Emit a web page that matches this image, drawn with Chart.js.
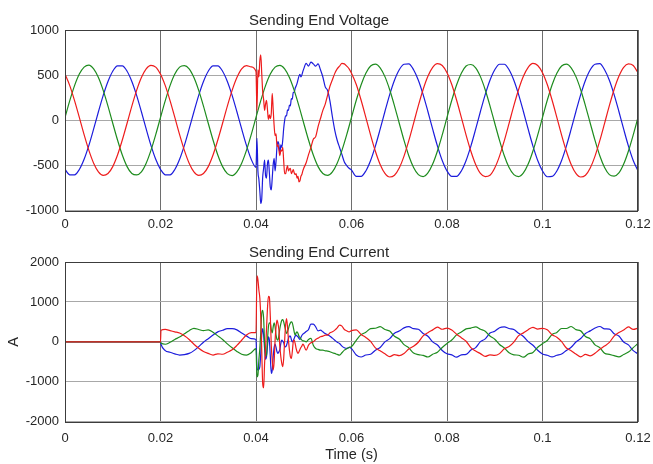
<!DOCTYPE html>
<html>
<head>
<meta charset="utf-8">
<script src="https://cdn.jsdelivr.net/npm/chart.js@4.4.1/dist/chart.umd.min.js"></script>
<style>
  body { margin: 0; background: #fff; }
  canvas { position: absolute; left: 0; }
  #volt { top: 0; }
  #curr { top: 232px; }
</style>
</head>
<body>
<canvas id="volt" width="653" height="232"></canvas>
<canvas id="curr" width="653" height="232"></canvas>
<script>
// ---- sample times (s) ----
// before the fault (breaker closes at 0.02)
const tPre = [0, 0.001, 0.002, 0.003, 0.004, 0.005, 0.006, 0.007, 0.008, 0.009,
  0.01, 0.011, 0.012, 0.013, 0.014, 0.015, 0.016, 0.017, 0.018, 0.019, 0.02, 0.0201,
  0.021, 0.022, 0.023, 0.024, 0.025, 0.026, 0.027, 0.028, 0.029,
  0.03, 0.031, 0.032, 0.033, 0.034, 0.035, 0.036, 0.037, 0.038, 0.039];
// fault window, fine steps
const tFault = [0.04, 0.0402, 0.0404, 0.0406, 0.0408, 0.041, 0.0412, 0.0414, 0.0416, 0.0418,
  0.042, 0.0422, 0.0424, 0.0426, 0.0428, 0.043, 0.0432, 0.0434, 0.0436, 0.0438,
  0.044, 0.0442, 0.0444, 0.0446, 0.0448, 0.045, 0.0452, 0.0454, 0.0456, 0.0458,
  0.046, 0.0462, 0.0464, 0.0466, 0.0468, 0.047, 0.0472, 0.0474, 0.0476, 0.0478,
  0.048, 0.0482, 0.0484, 0.0486, 0.0488, 0.049, 0.0492, 0.0494, 0.0496, 0.0498, 0.05,
  0.0505, 0.051, 0.0515, 0.052, 0.0525, 0.053, 0.0535, 0.054, 0.0545, 0.055,
  0.0555, 0.056, 0.0565, 0.057, 0.0575, 0.058, 0.0585, 0.059, 0.0595, 0.06];
// fault window, coarse steps (phase that is not disturbed)
const tMid = [0.04, 0.041, 0.042, 0.043, 0.044, 0.045, 0.046, 0.047, 0.048, 0.049,
  0.05, 0.051, 0.052, 0.053, 0.054, 0.055, 0.056, 0.057, 0.058, 0.059, 0.06];
// after the fault
const tPost = [0.061, 0.062, 0.063, 0.064, 0.065, 0.066, 0.067, 0.068, 0.069, 0.07,
  0.071, 0.072, 0.073, 0.074, 0.075, 0.076, 0.077, 0.078, 0.079, 0.08,
  0.081, 0.082, 0.083, 0.084, 0.085, 0.086, 0.087, 0.088, 0.089, 0.09,
  0.091, 0.092, 0.093, 0.094, 0.095, 0.096, 0.097, 0.098, 0.099, 0.1,
  0.101, 0.102, 0.103, 0.104, 0.105, 0.106, 0.107, 0.108, 0.109, 0.11,
  0.111, 0.112, 0.113, 0.114, 0.115, 0.116, 0.117, 0.118, 0.119, 0.12];

// ---- sending end voltage (V) ----
const vRedPre = [512, 384, 218, 32, -158, -332, -474, -570, -609, -589,
  -512, -384, -218, -32, 158, 332, 474, 570, 609, 589, 512, 501,
  384, 218, 32, -158, -332, -474, -570, -609, -589,
  -512, -384, -218, -32, 158, 332, 474, 570, 606, 592];
const vGreenPre = [32, 218, 384, 512, 589, 612, 570, 474, 332, 158,
  -32, -218, -384, -512, -589, -604, -570, -474, -332, -158, 32, 51,
  218, 384, 512, 589, 606, 570, 474, 332, 158,
  -32, -218, -384, -512, -589, -611, -570, -474, -332, -158];
const vBluePre = [-544, -603, -603, -544, -431, -277, -95, 95, 277, 431,
  544, 603, 603, 544, 431, 277, 95, -95, -277, -431, -544, -552,
  -603, -603, -544, -431, -277, -95, 95, 277, 431,
  544, 603, 603, 544, 431, 277, 95, -95, -277, -431];

const vRedFault = [540, 110, 560, 480, 660, 725, 520, 320, 230, 110,
  180, 220, 120, 10, 60, 20, 80, 300, 120, -60,
  -170, -150, -290, -270, -330, -390, -330, -340, -300, -450,
  -590, -590, -540, -500, -560, -540, -530, -590, -570, -545,
  -580, -600, -590, -640, -620, -680, -670, -620, -600, -560, -530,
  -470, -380, -300, -210, -180, -70, 20, 110, 180, 280,
  380, 450, 520, 570, 600, 630, 625, 600, 570, 520];
const vBlueFault = [-520, -200, -560, -650, -780, -920, -870, -630, -530, -440,
  -610, -640, -480, -440, -580, -740, -770, -640, -490, -420,
  -560, -450, -290, -235, -270, -370, -270, -300, -220, -90,
  0, 50, 50, 115, 110, 170, 160, 240, 235, 310,
  310, 355, 380, 410, 450, 490, 510, 480, 500, 540, 570,
  630, 600, 645, 625, 600, 625, 560, 480, 370, 330,
  210, 40, -110, -220, -300, -380, -460, -500, -530, -550];
const vGreenMid = [32, 218, 384, 512, 589, 609, 570, 474, 332, 158,
  -32, -218, -384, -512, -589, -609, -570, -474, -332, -158, 32];

const vRedPost = [396, 225, 33, -163, -342, -488, -587, -627, -607,
  -527, -396, -225, -33, 163, 342, 488, 587, 627, 607,
  527, 396, 225, 33, -163, -342, -488, -587, -622, -607,
  -527, -396, -225, -33, 163, 342, 488, 587, 630, 607,
  527, 396, 225, 33, -163, -342, -488, -587, -627, -607,
  -527, -396, -225, -33, 163, 342, 488, 587, 624, 607, 527];
const vGreenPost = [222, 392, 522, 601, 622, 582, 484, 339, 161,
  -32, -222, -392, -522, -601, -622, -582, -484, -339, -161,
  32, 222, 392, 522, 601, 618, 582, 484, 339, 161,
  -32, -222, -392, -522, -601, -622, -582, -484, -339, -161,
  32, 222, 392, 522, 601, 622, 582, 484, 339, 161,
  -32, -222, -392, -522, -601, -617, -582, -484, -339, -161, 32];
const vBluePost = [-621, -621, -560, -444, -285, -98, 98, 285, 444,
  560, 621, 626, 560, 444, 285, 98, -98, -285, -444,
  -560, -621, -621, -560, -444, -285, -98, 98, 285, 444,
  560, 621, 621, 560, 444, 285, 98, -98, -285, -444,
  -560, -624, -621, -560, -444, -285, -98, 98, 285, 444,
  560, 621, 628, 560, 444, 285, 98, -98, -285, -444, -560];

// ---- sending end current (A) ----
const iRedPre = [0, 0, 0, 0, 0, 0, 0, 0, 0, 0, 0, 0, 0, 0, 0, 0, 0, 0, 0, 0, 0, 290,
  310, 280, 250, 220, 150, 60, -60, -160, -240,
  -290, -330, -300, -310, -260, -200, -90, 40, 170, 230];
const iGreenPre = [0, 0, 0, 0, 0, 0, 0, 0, 0, 0, 0, 0, 0, 0, 0, 0, 0, 0, 0, 0, 0, -30,
  -60, -10, 60, 120, 200, 280, 340, 310, 280,
  300, 240, 150, 60, -50, -150, -240, -310, -330, -270];
const iBluePre = [0, 0, 0, 0, 0, 0, 0, 0, 0, 0, 0, 0, 0, 0, 0, 0, 0, 0, 0, 0, 0, -60,
  -220, -260, -300, -330, -320, -290, -220, -120, -10,
  80, 170, 250, 290, 330, 330, 300, 220, 150, 80];

const iRedFault = [230, 1650, 1560, 1300, 1100, 625, -200, -1040, -1150, -540,
  -165, 320, 834, 1142, 1125, 625, -83, -457, -707, -499,
  42, 376, 542, 459, 293, -124, -374, -540, -624, -415,
  42, 418, 584, 376, 42, -207, -374, -415, -249, 0,
  42, -40, -165, -249, -290, -249, -190, -140, -107, -57, -83,
  -207, -83, -25, 0, 60, 93, 126, 143, 168, 168,
  226, 251, 293, 351, 418, 393, 309, 276, 251, 280];
const iGreenFault = [-170, -875, -832, -457, -165, 251, 709, 792, 584, -41,
  -357, -332, 42, 376, 476, 459, 309, 226, 376, 476,
  376, 168, 60, 42, 168, 334, 459, 542, 559, 501,
  393, 293, 209, 251, 334, 418, 476, 501, 476, 376,
  251, 168, 226, 251, 209, 143, 110, 76, 42, 26, 26,
  0, 60, 85, -83, -165, -190, -207, -207, -224, -232,
  -249, -274, -290, -315, -332, -274, -207, -174, -140, -120];
const iBlueFault = [60, -624, -707, -690, -624, -290, 168, 334, 168, -165,
  -440, -374, -107, 126, 42, -374, -790, -707, -374, -140,
  -57, -140, -249, -290, -249, -190, -40, 42, 18, -25,
  -107, -124, -83, 0, 85, 143, 143, 60, 0, 26,
  85, 143, 168, 143, 126, 85, 60, 110, 160, 193, 209,
  259, 309, 443, 443, 376, 276, 293, 251, 209, 176,
  143, 93, 42, -8, -40, -107, -149, -165, -140, -170];

const iRedPost = [300, 185, 110, 10, -150, -225, -300, -370, -320,
  -345, -290, -180, -110, -10, 150, 230, 300, 370, 315,
  345, 295, 190, 105, 15, -145, -230, -295, -365, -325,
  -340, -295, -175, -115, -5, 155, 225, 305, 365, 320,
  340, 300, 180, 115, 5, -155, -220, -305, -375, -315,
  -350, -285, -185, -105, -15, 145, 235, 295, 375, 310, 345];
const iGreenPost = [40, 180, 240, 330, 340, 380, 310, 270, 140,
  70, -70, -150, -280, -320, -340, -380, -310, -260, -140,
  -40, 45, 175, 245, 325, 345, 375, 315, 265, 145,
  65, -65, -155, -275, -325, -335, -385, -305, -265, -135,
  -45, 35, 185, 235, 335, 335, 385, 305, 275, 135,
  75, -75, -145, -285, -315, -345, -375, -315, -255, -145, -40];
const iBluePost = [-330, -380, -330, -310, -210, -140, 0, 80, 215,
  270, 350, 380, 330, 315, 210, 140, 0, -80, -215,
  -300, -325, -385, -325, -315, -205, -145, 5, 75, 220,
  265, 355, 375, 335, 310, 215, 135, 5, -85, -210,
  -305, -335, -375, -335, -305, -215, -135, -5, 85, 210,
  275, 345, 385, 325, 320, 205, 145, -5, -75, -220, -300];

// ---- look ----
const RED = "#ee1c1c";
const GREEN = "#1e8c1e";
const BLUE = "#1c1cdc";
const TEXT = "#262626";
Chart.defaults.font.family = "'Liberation Sans', Arial, sans-serif";
Chart.defaults.color = TEXT;

// join [times, values] pieces into {x, y} points
function series(parts) {
  const out = [];
  parts.forEach(([ts, vs]) => ts.forEach((t, i) => out.push({ x: t, y: vs[i] })));
  return out;
}

function line(color, data) {
  return {
    data: data,
    borderColor: color,
    borderWidth: 1.2,
    pointRadius: 0,
    fill: false,
    cubicInterpolationMode: "monotone",
  };
}

// axes box on all four sides
const boxPlugin = {
  id: "box",
  afterDraw(chart) {
    const { ctx, chartArea: a } = chart;
    ctx.save();
    ctx.strokeStyle = "#3c3c3c";
    ctx.lineWidth = 1;
    ctx.strokeRect(Math.round(a.left) + 0.5, Math.round(a.top) + 0.5,
      Math.round(a.right - a.left) - 1, Math.round(a.bottom - a.top));
    ctx.restore();
  },
};

// fixed axis sizes so both plot boxes line up
function fixSize(prop, size) {
  return (s) => {
    s[prop] = size;
    s.paddingLeft = 0;
    s.paddingRight = 0;
    s.paddingTop = 0;
    s.paddingBottom = 0;
  };
}

function options(title, yMin, yMax, yStep, xTitle, yTitle, xHeight, tickPad) {
  return {
    responsive: false,
    animation: false,
    devicePixelRatio: 1,
    layout: { padding: { left: 0, right: 15, top: 0, bottom: 0 } },
    plugins: {
      legend: { display: false },
      tooltip: { enabled: false },
      title: {
        display: true,
        text: title,
        color: TEXT,
        font: { size: 15, weight: "normal" },
        padding: { top: 12, bottom: 0 },
      },
    },
    scales: {
      x: {
        type: "linear",
        min: 0,
        max: 0.12,
        border: { display: false },
        grid: { color: "#6e6e6e", lineWidth: 1, drawTicks: false },
        ticks: {
          stepSize: 0.02,
          padding: tickPad,
          maxRotation: 0,
          autoSkip: false,
          font: { size: 13 },
          callback: (v) => String(+v.toFixed(2)),
        },
        title: {
          display: !!xTitle,
          text: xTitle,
          font: { size: 14.5 },
          padding: { top: 0, bottom: 0 },
        },
        afterFit: fixSize("height", xHeight),
      },
      y: {
        min: yMin,
        max: yMax,
        border: { display: false },
        grid: { color: "#a8a8a8", lineWidth: 1, drawTicks: false },
        ticks: {
          stepSize: yStep,
          padding: 6,
          font: { size: 13 },
          callback: (v) => String(v),
        },
        title: {
          display: !!yTitle,
          text: yTitle,
          font: { size: 14.5 },
          padding: { top: 5, bottom: 0 },
        },
        afterFit: fixSize("width", 65),
      },
    },
  };
}

new Chart(document.getElementById("volt"), {
  type: "line",
  data: {
    datasets: [
      line(RED, series([[tPre, vRedPre], [tFault, vRedFault], [tPost, vRedPost]])),
      line(GREEN, series([[tPre, vGreenPre], [tMid, vGreenMid], [tPost, vGreenPost]])),
      line(BLUE, series([[tPre, vBluePre], [tFault, vBlueFault], [tPost, vBluePost]])),
    ],
  },
  options: options("Sending End Voltage", -1000, 1000, 500, "", "", 21.3, 6),
  plugins: [boxPlugin],
});

new Chart(document.getElementById("curr"), {
  type: "line",
  data: {
    datasets: [
      line(RED, series([[tPre, iRedPre], [tFault, iRedFault], [tPost, iRedPost]])),
      line(GREEN, series([[tPre, iGreenPre], [tFault, iGreenFault], [tPost, iGreenPost]])),
      line(BLUE, series([[tPre, iBluePre], [tFault, iBlueFault], [tPost, iBluePost]])),
    ],
  },
  options: options("Sending End Current", -2000, 2000, 1000, "Time (s)", "A", 42.3, 9),
  plugins: [boxPlugin],
});
</script>
</body>
</html>
